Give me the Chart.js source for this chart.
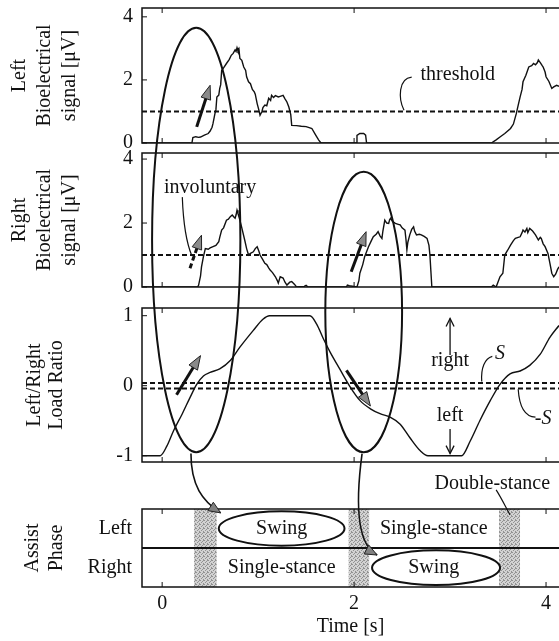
<!DOCTYPE html>
<html>
<head>
<meta charset="utf-8">
<script src="https://cdn.jsdelivr.net/npm/chart.js"></script>
<style>
  html, body { margin: 0; padding: 0; background: #fff; }
  #c { display: block; }
</style>
</head>
<body>
<canvas id="c" width="559" height="641"></canvas>
<script>
// ---- data ----
const timeTicks = [0, 2, 4];

const leftTime = [-0.21, 0.31, 0.32, 0.35, 0.38, 0.40, 0.44, 0.48, 0.50, 0.52, 0.53, 0.55, 0.56, 0.57, 0.59, 0.60, 0.61, 0.62, 0.64, 0.67, 0.70, 0.72, 0.74, 0.76, 0.77, 0.78, 0.79, 0.80, 0.81, 0.83, 0.85, 0.87, 0.88, 0.90, 0.92, 0.94, 0.96, 0.97, 0.99, 1.01, 1.02, 1.04, 1.05, 1.07, 1.09, 1.11, 1.13, 1.14, 1.16, 1.18, 1.21, 1.23, 1.26, 1.28, 1.30, 1.32, 1.34, 1.35, 1.40, 1.45, 1.50, 1.54, 1.56, 1.60, 1.63, 1.65, 1.66, 2.02, 2.03, 2.06, 2.10, 2.12, 2.13, 3.43, 3.48, 3.52, 3.57, 3.63, 3.66, 3.69, 3.71, 3.73, 3.75, 3.76, 3.79, 3.82, 3.85, 3.87, 3.89, 3.91, 3.92, 3.94, 3.96, 3.97, 3.99, 4.00, 4.03, 4.06, 4.08, 4.11, 4.135];
const leftSignal = [0, 0, 0.17, 0.2, 0.18, 0.19, 0.25, 0.30, 0.38, 0.5, 0.62, 0.93, 1.05, 1.46, 1.52, 1.73, 1.85, 2.3, 2.38, 2.52, 2.65, 2.78, 2.84, 2.95, 2.9, 3.02, 2.92, 2.98, 2.68, 2.62, 2.41, 2.3, 2.1, 1.94, 1.88, 1.7, 1.62, 1.55, 1.25, 1.02, 0.88, 1.0, 1.12, 1.2, 1.18, 1.42, 1.35, 1.51, 1.44, 1.5, 1.46, 1.48, 1.51, 1.4, 1.3, 1.14, 0.9, 0.56, 0.55, 0.53, 0.52, 0.48, 0.46, 0.25, 0.1, 0.02, 0, 0, 0.24, 0.3, 0.3, 0.25, 0, 0, 0.1, 0.19, 0.3, 0.46, 0.6, 0.93, 1.2, 1.46, 1.7, 1.94, 2.15, 2.41, 2.45, 2.52, 2.48, 2.55, 2.63, 2.55, 2.45, 2.41, 2.25, 2.1, 1.95, 1.73, 1.78, 1.83, 1.8];

const rightTime = [-0.21, 0.37, 0.38, 0.40, 0.41, 0.43, 0.45, 0.48, 0.50, 0.53, 0.56, 0.59, 0.60, 0.62, 0.64, 0.67, 0.69, 0.71, 0.73, 0.75, 0.76, 0.77, 0.78, 0.79, 0.81, 0.83, 0.86, 0.88, 0.90, 0.92, 0.95, 0.97, 0.99, 1.01, 1.02, 1.05, 1.07, 1.09, 1.11, 1.125, 1.15, 1.18, 1.20, 1.21, 1.23, 1.26, 1.28, 1.30, 1.33, 1.35, 1.38, 1.40, 1.48, 1.50, 1.52, 1.92, 1.93, 1.95, 2.03, 2.05, 2.06, 2.09, 2.11, 2.13, 2.15, 2.18, 2.20, 2.23, 2.25, 2.27, 2.29, 2.30, 2.32, 2.34, 2.36, 2.37, 2.38, 2.40, 2.43, 2.46, 2.48, 2.50, 2.53, 2.54, 2.55, 2.56, 2.58, 2.60, 2.62, 2.63, 2.65, 2.68, 2.70, 2.73, 2.76, 2.78, 2.79, 2.80, 2.81, 3.43, 3.45, 3.48, 3.52, 3.55, 3.57, 3.60, 3.63, 3.66, 3.68, 3.71, 3.73, 3.75, 3.76, 3.78, 3.80, 3.81, 3.83, 3.86, 3.89, 3.92, 3.94, 3.95, 3.97, 3.99, 4.02, 4.04, 4.06, 4.08, 4.10, 4.12, 4.135];
const rightSignal = [0, 0, 0.06, 0.35, 0.63, 0.95, 1.2, 1.18, 1.22, 1.26, 1.3, 1.42, 1.55, 1.78, 1.85, 2.09, 2.12, 2.2, 2.25, 2.18, 2.15, 2.25, 2.4, 2.3, 2.09, 1.85, 1.47, 1.2, 1.0, 1.05, 1.1, 1.2, 1.26, 1.1, 1.0, 0.85, 0.74, 0.7, 0.6, 0.53, 0.45, 0.32, 0.2, 0.12, 0.32, 0.28, 0.15, 0.06, 0.15, 0.17, 0.08, 0, 0.02, 0.05, 0, 0, 0.06, 0.04, 0, 0.2, 0.43, 0.7, 0.95, 1.1, 1.26, 1.45, 1.57, 1.65, 1.73, 1.6, 1.52, 1.75, 2.09, 2.0, 1.99, 2.1, 2.15, 2.05, 1.99, 1.96, 1.94, 1.85, 1.78, 1.5, 1.16, 1.4, 1.63, 1.8, 1.88, 1.75, 1.63, 1.65, 1.63, 1.58, 1.52, 1.3, 1.0, 0.5, 0, 0, 0.06, 0, 0.32, 0.43, 1.0, 1.15, 1.31, 1.45, 1.52, 1.55, 1.57, 1.7, 1.78, 1.72, 1.83, 1.7, 1.83, 1.75, 1.63, 1.47, 1.55, 1.52, 1.35, 1.26, 1.05, 0.75, 0.43, 0.32, 0.4, 0.55, 0.63];

const ratioTime = [-0.21, -0.02, 0.05, 0.12, 0.21, 0.29, 0.36, 0.43, 0.50, 0.60, 0.71, 0.81, 0.95, 1.05, 1.12, 1.54, 1.61, 1.68, 1.75, 1.85, 1.96, 2.06, 2.17, 2.27, 2.375, 2.48, 2.58, 2.69, 2.77, 3.12, 3.21, 3.31, 3.42, 3.52, 3.625, 3.73, 3.83, 3.94, 4.04, 4.135];
const loadRatio = [-1, -1, -0.86, -0.64, -0.40, -0.17, 0.02, 0.14, 0.19, 0.24, 0.36, 0.55, 0.79, 0.95, 1.0, 1.0, 0.88, 0.67, 0.48, 0.24, -0.02, -0.21, -0.33, -0.40, -0.45, -0.55, -0.74, -0.93, -1.0, -1.0, -0.79, -0.5, -0.21, 0.02, 0.17, 0.21, 0.29, 0.45, 0.69, 0.86];

const threshold = 1;
const S = 0.04;

const phaseRows = ['Right', 'Left'];
const doubleStart = [0.33, 1.94, 3.51];
const doubleEnd = [0.57, 2.16, 3.73];

// ---- setup ----
const tMin = -0.21, tMax = 4.135;
const serif = '"Liberation Serif", "Times New Roman", serif';
const ink = '#111';
const pts = (xs, ys) => xs.map((x, i) => ({x: x, y: ys[i]}));
const wide = v => [{x: tMin, y: v}, {x: tMax, y: v}];
const noPad = s => { s.paddingTop = 0; s.paddingBottom = 0; s.paddingLeft = 0; s.paddingRight = 0; };

const canvas = document.getElementById('c');

// stippled grey for the double-stance boxes
const grain = document.createElement('canvas');
grain.width = 4; grain.height = 4;
const gctx = grain.getContext('2d');
gctx.fillStyle = '#d2d2d2'; gctx.fillRect(0, 0, 4, 4);
gctx.fillStyle = '#929292';
[[0, 0], [2, 1], [1, 2], [3, 3], [3, 0]].forEach(p => gctx.fillRect(p[0], p[1], 1, 1));
const stipple = canvas.getContext('2d').createPattern(grain, 'repeat');

const datasets = [];
doubleStart.forEach((a, i) => {
  datasets.push({data: [{x: a, y: 2}, {x: doubleEnd[i], y: 2}], yAxisID: 'y4', fill: 'start',
    backgroundColor: stipple, borderWidth: 0, pointRadius: 0});
});
datasets.push({data: wide(threshold), yAxisID: 'y1', borderColor: ink, borderWidth: 2, borderDash: [5, 3], pointRadius: 0});
datasets.push({data: wide(threshold), yAxisID: 'y2', borderColor: ink, borderWidth: 2, borderDash: [5, 3], pointRadius: 0});
datasets.push({data: wide(S), yAxisID: 'y3', borderColor: ink, borderWidth: 2, borderDash: [5, 3], pointRadius: 0});
datasets.push({data: wide(-S), yAxisID: 'y3', borderColor: ink, borderWidth: 2, borderDash: [5, 3], pointRadius: 0});
datasets.push({data: pts(leftTime, leftSignal), yAxisID: 'y1', borderColor: ink, borderWidth: 1.4, pointRadius: 0});
datasets.push({data: pts(rightTime, rightSignal), yAxisID: 'y2', borderColor: ink, borderWidth: 1.4, pointRadius: 0});
datasets.push({data: pts(ratioTime, loadRatio), yAxisID: 'y3', borderColor: ink, borderWidth: 1.4, pointRadius: 0,
  cubicInterpolationMode: 'monotone'});

function yAxis(weight, stackWeight, extra) {
  return Object.assign({
    type: 'linear', position: 'left', stack: 'panels', stackWeight: stackWeight, weight: weight,
    afterFit: s => { s.width = 142; noPad(s); },
    grid: {display: false, drawTicks: false},
    border: {display: false},
    ticks: {font: {family: serif, size: 20}, color: ink, padding: 9, includeBounds: false}
  }, extra);
}
function gap(weight, stackWeight) {
  return yAxis(weight, stackWeight, {min: 0, max: 1, ticks: {display: false}});
}
function title(lines, lh, pad) {
  return {display: true, text: lines, color: ink, font: {family: serif, size: 20, lineHeight: lh}, padding: {top: pad, bottom: 0}};
}

// ---- annotations drawn through the scales ----
function head(ctx, x0, y0, x1, y1, len, wid, fill) {
  const a = Math.atan2(y1 - y0, x1 - x0), c = Math.cos(a), s = Math.sin(a);
  ctx.beginPath();
  ctx.moveTo(x1, y1);
  ctx.lineTo(x1 - len * c + wid * s, y1 - len * s - wid * c);
  ctx.lineTo(x1 - len * c - wid * s, y1 - len * s + wid * c);
  ctx.closePath();
  ctx.fillStyle = fill; ctx.fill();
  ctx.lineWidth = 1; ctx.strokeStyle = '#222'; ctx.stroke();
}

const overlay = {
  id: 'overlay',
  afterDatasetsDraw(chart) {
    const {ctx, chartArea: ca, scales} = chart;
    const X = t => scales.x.getPixelForValue(t);
    const Y = (id, v) => scales[id].getPixelForValue(v);
    ctx.save();
    ctx.strokeStyle = ink; ctx.fillStyle = ink;

    // frames + inward ticks
    ['y1', 'y2', 'y3', 'y4'].forEach(id => {
      const s = scales[id];
      ctx.lineWidth = 1.5;
      ctx.strokeRect(ca.left, s.top, ca.right - ca.left + 10, s.bottom - s.top);
      ctx.lineWidth = 1;
      ctx.beginPath();
      timeTicks.forEach(t => {
        ctx.moveTo(X(t), s.top); ctx.lineTo(X(t), s.top + 5);
        ctx.moveTo(X(t), s.bottom); ctx.lineTo(X(t), s.bottom - 5);
      });
      if (id !== 'y4') s.ticks.forEach(tk => {
        const y = s.getPixelForValue(tk.value);
        ctx.moveTo(ca.left, y); ctx.lineTo(ca.left + 5, y);
      });
      ctx.stroke();
    });
    ctx.lineWidth = 2;
    ctx.beginPath(); ctx.moveTo(ca.left, Y('y4', 1)); ctx.lineTo(ca.right + 5, Y('y4', 1)); ctx.stroke();

    // big ellipses spanning the panels
    const bigEllipse = (t, top, bot, hw) => {
      ctx.beginPath();
      ctx.ellipse(X(t), (top + bot) / 2, X(t + hw) - X(t), (bot - top) / 2, 0, 0, Math.PI * 2);
      ctx.stroke();
    };
    ctx.strokeStyle = ink; ctx.lineWidth = 2;
    bigEllipse(0.355, Y('y1', 3.65), Y('y3', -0.95), 0.46);
    bigEllipse(2.10, Y('y2', 3.6), Y('y3', -0.95), 0.40);

    // swing ellipses
    bigEllipse(1.245, Y('y4', 1.94), Y('y4', 1.06), 0.655);
    bigEllipse(2.854, Y('y4', 0.94), Y('y4', 0.05), 0.667);

    // curved arrows into the phase panel
    const curve = (p0, c1, c2, p3) => {
      ctx.strokeStyle = ink; ctx.lineWidth = 1.6;
      ctx.beginPath(); ctx.moveTo(p0[0], p0[1]);
      ctx.bezierCurveTo(c1[0], c1[1], c2[0], c2[1], p3[0], p3[1]);
      ctx.stroke();
      head(ctx, c2[0], c2[1], p3[0], p3[1], 12, 5, '#808080');
    };
    curve([X(0.30), Y('y3', -0.97)], [X(0.30), Y('y4', 2.6)], [X(0.42), Y('y4', 2.2)], [X(0.61), Y('y4', 1.9)]);
    curve([X(2.083), Y('y3', -0.97)], [X(2.0), Y('y4', 1.9)], [X(2.06), Y('y4', 1.05)], [X(2.24), Y('y4', 0.82)]);

    // short thick arrows
    const thick = (x0, y0, x1, y1, dashed) => {
      const a = Math.atan2(y1 - y0, x1 - x0);
      ctx.strokeStyle = ink; ctx.lineWidth = 3;
      ctx.setLineDash(dashed ? [5, 3] : []);
      ctx.beginPath(); ctx.moveTo(x0, y0);
      ctx.lineTo(x1 - 12 * Math.cos(a), y1 - 12 * Math.sin(a)); ctx.stroke();
      ctx.setLineDash([]);
      head(ctx, x0, y0, x1, y1, 14, 5, '#8a8a8a');
    };
    thick(X(0.36), Y('y1', 0.51), X(0.50), Y('y1', 1.83));
    thick(X(0.29), Y('y2', 0.59), X(0.41), Y('y2', 1.62), true);
    thick(X(1.97), Y('y2', 0.48), X(2.125), Y('y2', 1.73));
    thick(X(0.15), Y('y3', -0.13), X(0.40), Y('y3', 0.43));
    thick(X(1.92), Y('y3', 0.22), X(2.17), Y('y3', -0.29));

    // thin arrows right / left
    const thin = (x0, y0, x1, y1) => {
      ctx.strokeStyle = ink; ctx.lineWidth = 1.3;
      ctx.beginPath(); ctx.moveTo(x0, y0); ctx.lineTo(x1, y1); ctx.stroke();
      const a = Math.atan2(y1 - y0, x1 - x0), c = Math.cos(a), s = Math.sin(a);
      ctx.beginPath();
      ctx.moveTo(x1 - 8 * c + 4 * s, y1 - 8 * s - 4 * c); ctx.lineTo(x1, y1);
      ctx.lineTo(x1 - 8 * c - 4 * s, y1 - 8 * s + 4 * c); ctx.stroke();
    };
    thin(X(3.0), Y('y3', 0.44), X(3.0), Y('y3', 0.96));
    thin(X(3.0), Y('y3', -0.62), X(3.0), Y('y3', -0.97));

    // leader lines
    const leader = (p0, c1, c2, p3) => {
      ctx.strokeStyle = ink; ctx.lineWidth = 1.2;
      ctx.beginPath(); ctx.moveTo(p0[0], p0[1]);
      ctx.bezierCurveTo(c1[0], c1[1], c2[0], c2[1], p3[0], p3[1]);
      ctx.stroke();
    };
    leader([X(2.60), Y('y1', 2.09)], [X(2.46), Y('y1', 2.05)], [X(2.46), Y('y1', 1.4)], [X(2.52), Y('y1', 1.04)]);
    leader([X(0.21), Y('y2', 2.81)], [X(0.22), Y('y2', 2.0)], [X(0.25), Y('y2', 1.4)], [X(0.31), Y('y2', 0.97)]);
    leader([X(3.44), Y('y3', 0.42)], [X(3.36), Y('y3', 0.39)], [X(3.32), Y('y3', 0.25)], [X(3.33), Y('y3', 0.06)]);
    leader([X(3.89), Y('y3', -0.45)], [X(3.76), Y('y3', -0.44)], [X(3.72), Y('y3', -0.27)], [X(3.71), Y('y3', -0.05)]);
    leader([X(3.48), Y('y4', 2.49)], [X(3.53), Y('y4', 2.3)], [X(3.58), Y('y4', 2.05)], [X(3.625), Y('y4', 1.85)]);

    // text
    ctx.fillStyle = ink;
    ctx.textAlign = 'center'; ctx.textBaseline = 'middle';
    ctx.font = '20px ' + serif;
    ctx.fillText('threshold', X(3.08), Y('y1', 2.15));
    ctx.fillText('involuntary', X(0.5), Y('y2', 3.09));
    ctx.fillText('right', X(3.0), Y('y3', 0.35));
    ctx.fillText('left', X(3.0), Y('y3', -0.43));
    ctx.fillText('Double-stance', X(3.44), Y('y4', 2.64));
    ctx.fillText('Swing', X(1.245), Y('y4', 1.5));
    ctx.fillText('Single-stance', X(2.83), Y('y4', 1.5));
    ctx.fillText('Single-stance', X(1.245), Y('y4', 0.5));
    ctx.fillText('Swing', X(2.83), Y('y4', 0.5));
    ctx.font = 'italic 20px ' + serif;
    ctx.fillText('S', X(3.52), Y('y3', 0.45));
    ctx.fillText('-S', X(3.97), Y('y3', -0.47));
    ctx.restore();
  }
};

new Chart(canvas, {
  type: 'line',
  data: {datasets: datasets},
  options: {
    responsive: false,
    animation: false,
    devicePixelRatio: 1,
    layout: {padding: {top: 8, left: 0, right: 0, bottom: 0}},
    plugins: {legend: {display: false}, tooltip: {enabled: false}},
    scales: {
      x: {
        type: 'linear', position: 'bottom', min: tMin, max: tMax,
        afterBuildTicks: s => { s.ticks = timeTicks.map(v => ({value: v})); },
        afterFit: s => { s.height = 54; noPad(s); },
        grid: {display: false, drawTicks: false},
        border: {display: false},
        ticks: {font: {family: serif, size: 20}, color: ink, padding: 5, maxRotation: 0},
        title: {display: true, text: 'Time [s]', color: ink, font: {family: serif, size: 20}, padding: {top: 0, bottom: 2}}
      },
      y1: yAxis(7, 135, {min: 0, max: 4.28,
        ticks: {font: {family: serif, size: 20}, color: ink, padding: 9, includeBounds: false, stepSize: 1,
          callback: v => (v % 2 === 0 ? v : '')},
        title: title(['Left', 'Bioelectrical', 'signal [μV]'], 1.25, 7.5)}),
      g1: gap(6, 10),
      y2: yAxis(5, 134, {min: 0, max: 4.19,
        ticks: {font: {family: serif, size: 20}, color: ink, padding: 9, includeBounds: false, stepSize: 1,
          callback: v => (v % 2 === 0 ? v : '')},
        title: title(['Right', 'Bioelectrical', 'signal [μV]'], 1.25, 7.5)}),
      g2: gap(4, 21),
      y3: yAxis(3, 154, {min: -1.09, max: 1.11,
        ticks: {font: {family: serif, size: 20}, color: ink, padding: 9, includeBounds: false, stepSize: 0.5,
          callback: v => (Number.isInteger(v) ? v : '')},
        title: title(['Left/Right', 'Load Ratio'], 1.1, 24)}),
      g3: gap(2, 47),
      y4: yAxis(1, 78, {min: 0, max: 2,
        afterBuildTicks: s => { s.ticks = [{value: 0.5}, {value: 1.5}]; },
        ticks: {font: {family: serif, size: 20}, color: ink, padding: 10,
          callback: v => phaseRows[Math.floor(v)]},
        title: title(['Assist', 'Phase'], 1.2, 21)})
    }
  },
  plugins: [overlay]
});
</script>
</body>
</html>
